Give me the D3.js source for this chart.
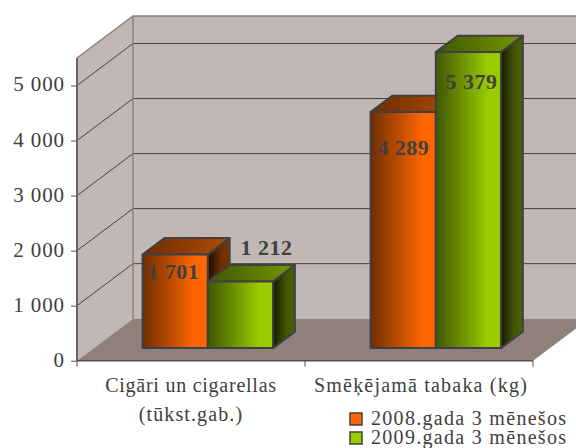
<!DOCTYPE html>
<html><head><meta charset="utf-8">
<script src="https://cdn.jsdelivr.net/npm/d3@7"></script>
<style>html,body{margin:0;padding:0;background:#fff;overflow:hidden}svg{display:block}text{font-family:"Liberation Serif",serif;fill:#404040}</style>
</head><body><div id="c"></div>
<script>
const categories=[["Cigāri un cigarellas","(tūkst.gab.)"],["Smēķējamā tabaka (kg)"]];
const categoryKeys=["a","b"];
const seriesNames=["2008.gada 3 mēnešos","2009.gada 3 mēnešos"];
const series2008=[1701,4289];
const series2009=[1212,5379];
const valueTicks=[0,1000,2000,3000,4000,5000];
const palette=[{dark:"#6e2e00",mid:"#b04b00",light:"#ff6600"},{dark:"#3f5600",mid:"#739900",light:"#99cc00"}];
const labelOffsets=[[[-2,25],[26,-26]],[[0,43],[3,37]]];
const categorySpacing=[[.75,1.1],[1.2]];

const W=576,H=448,svg=d3.select("#c").append("svg").attr("width",W).attr("height",H);
const x=d3.scaleBand().domain(categoryKeys).range([77,533]);
const y=d3.scaleLinear().domain([0,5500]).range([360.7,58]);
const DX=56,DY=-42;
const P=(px,val,d)=>[px+DX*d,y(val)+DY*d];
const path=a=>"M"+a.map(p=>p.join(",")).join("L")+"Z";
const line=a=>"M"+a.map(p=>p.join(",")).join("L");
const defs=svg.append("defs");
function grad(id,stops){const g=defs.append("linearGradient").attr("id",id);stops.forEach(([o,c])=>g.append("stop").attr("offset",o).attr("stop-color",c));}
palette.forEach((c,i)=>{
 grad("front"+i,[[0,c.dark],[.8,c.light],[1,c.light]]);
 grad("top"+i,[[0,c.dark],[1,c.mid]]);
 grad("side"+i,[[0,i?"#141c00":"#1a0a00"],[.6,i?"#405500":"#6e2e00"],[1,i?"#4a6300":"#7a3400"]]);
});
const maxV=y.domain()[1],X0=77,X1=533;
const wall="#c1b8b6",edge="#8c807e";
// walls and floor
svg.append("path").attr("d",path([P(X0,0,0),P(X0,maxV,0),P(X0,maxV,1),P(X0,0,1)])).attr("fill",wall);
svg.append("path").attr("d",path([P(X0,0,1),P(X0,maxV,1),P(X1,maxV,1),P(X1,0,1)])).attr("fill",wall);
svg.append("path").attr("d",path([P(X0,0,0),P(X0,0,1),P(X1,0,1),P(X1,0,0)])).attr("fill","#8f807c");
// gridlines
const grid=svg.append("g").attr("fill","none").attr("stroke","#454040").attr("stroke-width",1);
valueTicks.slice(1).forEach(v=>grid.append("path").attr("d",line([P(X0,v,0),P(X0,v,1),P(X1,v,1)])));
// wall edges
svg.append("path").attr("d",line([P(X0,maxV,0),P(X0,maxV,1),P(X1,maxV,1)])).attr("fill","none").attr("stroke",edge).attr("stroke-width",1.5);
svg.append("path").attr("d",line([P(X0,maxV,1),P(X0,0,1)])).attr("fill","none").attr("stroke",edge).attr("stroke-width",1.5);
// bars
const bw=65.2,d0=.3,d1=.69;
const barsData=[];
categoryKeys.forEach((k,ci)=>{[series2008,series2009].forEach((s,si)=>barsData.push({ci,si,k,v:s[ci]}));});
const bars=svg.append("g").attr("stroke","#3f3f44").attr("stroke-width",2).attr("stroke-linejoin","round");
barsData.forEach(b=>{
 const l=x(b.k)+x.bandwidth()/2-bw+b.si*bw, r=l+bw;
 const g=bars.append("g");
 g.append("path").attr("d",path([P(r,0,d0),P(r,b.v,d0),P(r,b.v,d1),P(r,0,d1)])).attr("fill",`url(#side${b.si})`);
 g.append("path").attr("d",path([P(l,b.v,d0),P(l,b.v,d1),P(r,b.v,d1),P(r,b.v,d0)])).attr("fill",`url(#top${b.si})`);
 g.append("path").attr("d",path([P(l,0,d0),P(l,b.v,d0),P(r,b.v,d0),P(r,0,d0)])).attr("fill",`url(#front${b.si})`);
});
// labels
const fmt=v=>d3.format(",")(v).replace(/,/g," ");
barsData.forEach(b=>{
 const l=x(b.k)+x.bandwidth()/2-bw+b.si*bw;
 const p=P(l+bw/2,b.v,d0),o=labelOffsets[b.ci][b.si];
 svg.append("text").attr("x",p[0]+o[0]).attr("y",p[1]+o[1]).attr("text-anchor","middle").attr("font-size",22).attr("font-weight","bold").attr("letter-spacing",.5).text(fmt(b.v));
});
// axes
const axL=svg.append("g").attr("transform","translate(77,0)").call(d3.axisLeft(y).tickValues(valueTicks).tickFormat(fmt).tickSize(6).tickPadding(6));
axL.select(".domain").attr("stroke","#6b6361").attr("stroke-width",2).attr("d",`M0,${y(maxV)}V${y(0)}`);
axL.selectAll("line").attr("stroke","#555");
axL.selectAll("text").attr("font-family","Liberation Serif").attr("font-size",21).attr("letter-spacing",.9).attr("dy","0.26em").style("fill","#404040");
const axB=svg.append("g").attr("transform",`translate(0,${y(0)})`).call(d3.axisBottom(x).tickValues([]).tickSizeOuter(0));
axB.select(".domain").attr("stroke","#55504f").attr("stroke-width",1.5).attr("d","M77,0H533");
[77,305,533].forEach(t=>axB.append("line").attr("x1",t).attr("x2",t).attr("y1",0).attr("y2",6).attr("stroke","#555"));
categories.forEach((ls,i)=>ls.forEach((t,j)=>{
 svg.append("text").attr("x",x(categoryKeys[i])+x.bandwidth()/2+(i?2:0)).attr("y",392+j*29).attr("text-anchor","middle").attr("font-size",20).attr("letter-spacing",categorySpacing[i][j]).text(t);
}));
// legend
seriesNames.forEach((n,i)=>{
 const yy=419+i*19;
 svg.append("rect").attr("x",350).attr("y",yy-6).attr("width",12).attr("height",12).attr("fill",palette[i].light).attr("stroke","#404040").attr("stroke-width",1.5);
 svg.append("text").attr("x",371).attr("y",yy+6).attr("font-size",20).attr("letter-spacing",1.3).text(n);
});
</script></body></html>
